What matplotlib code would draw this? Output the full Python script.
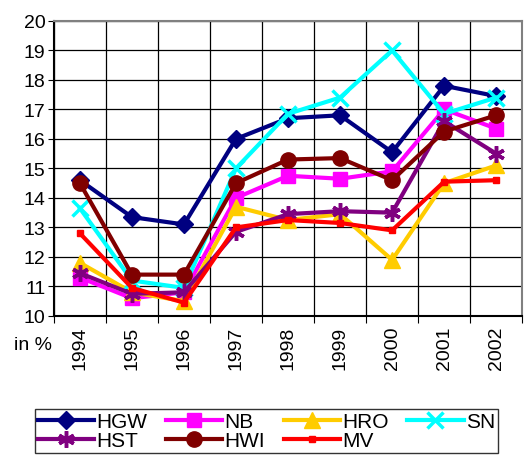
import matplotlib
matplotlib.use("Agg")
import matplotlib.pyplot as plt
import numpy as np

plt.rcParams["font.family"] = ["Liberation Sans", "DejaVu Sans"]

years = ["1994", "1995", "1996", "1997", "1998", "1999", "2000", "2001", "2002"]
HGW = [14.6, 13.35, 13.1, 16.0, 16.7, 16.8, 15.55, 17.8, 17.45]
NB = [11.3, 10.6, 10.8, 14.0, 14.75, 14.65, 14.9, 17.0, 16.35]
HRO = [11.8, 10.8, 10.5, 13.7, 13.25, 13.45, 11.9, 14.5, 15.1]
SN = [13.65, 11.2, 10.95, 15.0, 16.85, 17.4, 19.0, 16.85, 17.4]
HST = [11.45, 10.75, 10.8, 12.85, 13.45, 13.55, 13.5, 16.6, 15.5]
HWI = [14.5, 11.4, 11.4, 14.5, 15.3, 15.35, 14.6, 16.25, 16.8]
MV = [12.8, 10.95, 10.45, 13.0, 13.25, 13.15, 12.9, 14.55, 14.6]

series = [
    ("HGW", HGW, "#000080", "D", 9),
    ("NB", NB, "#FF00FF", "s", 10),
    ("HRO", HRO, "#FFCC00", "^", 11),
    ("SN", SN, "#00FFFF", "x", 11),
    ("HST", HST, "#800080", (6, 2, 0), 12),
    ("HWI", HWI, "#800000", "o", 11),
    ("MV", MV, "#FF0000", "s", 5),
]

fig = plt.figure(figsize=(5.28, 4.56), dpi=100)
ax = fig.add_axes([0.102, 0.305, 0.887, 0.647])
x = np.arange(len(years))
handles = {}
for name, vals, col, mk, ms in series:
    mew = 2.5 if mk in ("x",) or isinstance(mk, tuple) else 1
    h, = ax.plot(x, vals, color=col, lw=3, marker=mk, ms=ms, mec=col, mfc=col,
                 mew=mew, label=name)
    handles[name] = h

ax.set_xlim(-0.5, len(years) - 0.5)
ax.set_ylim(10, 20)
ax.set_yticks(range(10, 21))
ax.set_xticks(np.arange(-0.5, len(years), 1.0), minor=False)
ax.set_xticklabels([])
ax.set_xticks(x, minor=True)
ax.set_xticklabels(years, minor=True, rotation=90, fontsize=14)
ax.tick_params(axis="x", which="minor", length=0, pad=7)
ax.tick_params(axis="x", which="major", length=5, direction="out")
ax.tick_params(axis="y", labelsize=14, length=4, direction="out", pad=2)
ax.grid(True, which="major", color="black", lw=0.9)
ax.set_axisbelow(True)
for s in ax.spines.values():
    s.set_color("#808080")
    s.set_linewidth(1.5)
ax.spines["left"].set_color("black")
ax.spines["bottom"].set_color("black")

fig.text(0.026, 0.243, "in %", fontsize=14, va="center", ha="left")

order = ["HGW", "HST", "NB", "HWI", "HRO", "MV", "SN"]
leg = fig.legend([handles[n] for n in order], order, loc="upper left",
                 bbox_to_anchor=(0.066, 0.101), ncol=4,
                 fontsize=15, frameon=True, fancybox=False, edgecolor="black",
                 handlelength=2.7, handletextpad=0.1, columnspacing=0.9,
                 borderpad=0.15, labelspacing=0.0, borderaxespad=0)
leg.get_frame().set_linewidth(1)

fig.savefig("out.png", dpi=100)
